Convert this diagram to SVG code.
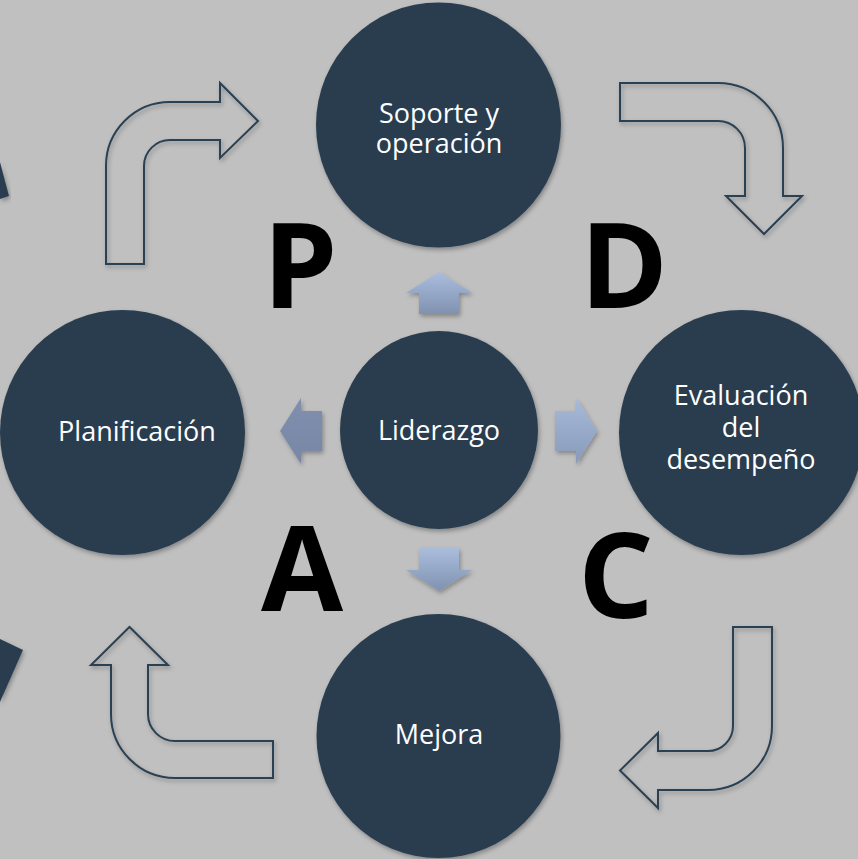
<svg xmlns="http://www.w3.org/2000/svg" width="858" height="859" viewBox="0 0 858 859">
  <defs>
    <filter id="sh" x="-20%" y="-20%" width="140%" height="140%">
      <feDropShadow dx="1.5" dy="2.5" stdDeviation="2" flood-color="#000" flood-opacity="0.3"/>
    </filter>
    <linearGradient id="gv" x1="0" y1="0" x2="0" y2="1">
      <stop offset="0" stop-color="#aabddd"/>
      <stop offset="1" stop-color="#8092b0"/>
    </linearGradient>
    <linearGradient id="gl" x1="0" y1="0" x2="0" y2="1">
      <stop offset="0" stop-color="#7f8fad"/>
      <stop offset="1" stop-color="#7787a5"/>
    </linearGradient>
    <linearGradient id="gr" x1="0" y1="0" x2="0" y2="1">
      <stop offset="0" stop-color="#a8badb"/>
      <stop offset="1" stop-color="#8899b9"/>
    </linearGradient>
    <style>
      .node { fill: #2a3e4f; filter: url(#sh); }
      .lbl { font-family: "Open Sans", "Liberation Sans", sans-serif; font-size: 27px; fill: #ffffff; text-anchor: middle; }
      .big { font-family: "Open Sans", "Liberation Sans", sans-serif; font-size: 119px; font-weight: bold; fill: #000000; text-anchor: middle; }
      .out { fill: none; stroke: #2b4152; stroke-width: 2; stroke-linejoin: miter; filter: url(#sh); }
      .small { filter: url(#sh); }
    </style>
  </defs>
  <rect x="0" y="0" width="858" height="859" fill="#c0c0c0"/>

  <!-- partial shapes at left edge -->
  <polygon points="0,162 9,196 0,199" fill="#2a3e4f" filter="url(#sh)"/>
  <polygon points="0,639 23,650 0,702" fill="#2a3e4f" filter="url(#sh)"/>

  <g id="connectors">
    <path class="out" d="M106,264 L106,166 A64,64 0 0 1 170,102 L220,102 L220,83 L258,121 L220,158 L220,140 L170,140 A26,26 0 0 0 144,166 L144,264 Z"/>
    <path class="out" d="M620,83 L718,83 A65,65 0 0 1 783,148 L783,196 L802,196 L764,234 L726,196 L745,196 L745,148 A27,27 0 0 0 718,121 L620,121 Z"/>
    <path class="out" d="M733,627 L772,627 L772,726 A64,64 0 0 1 708,790 L658,790 L658,808 L620,770.5 L658,733 L658,751 L708,751 A25,25 0 0 0 733,726 Z"/>
    <path class="out" d="M273,741 L273,778 L175,778 A64,64 0 0 1 111,714 L111,665 L91,665 L129.5,627 L168,665 L148,665 L148,714 A27,27 0 0 0 175,741 Z"/>
    <path class="small" fill="url(#gv)" d="M439,272 L472,293 L459,293 L459,314 L419,314 L419,293 L406,293 Z"/>
    <path class="small" fill="url(#gl)" d="M280,431 L301,398 L301,411 L322,411 L322,451 L301,451 L301,464 Z"/>
    <path class="small" fill="url(#gr)" d="M597,431 L576,398 L576,411 L555,411 L555,451 L576,451 L576,464 Z"/>
    <path class="small" fill="url(#gv)" d="M439,591 L472,570 L459,570 L459,548 L419,548 L419,570 L406,570 Z"/>
  </g>

  <g id="node-soporte">
    <circle class="node" cx="438.5" cy="125" r="122.5"/>
    <text class="lbl" x="439" y="123">Soporte y</text>
    <text class="lbl" x="439" y="153">operación</text>
  </g>
  <g id="node-planificacion">
    <circle class="node" cx="122.5" cy="432.5" r="122.5"/>
    <text class="lbl" x="137" y="441">Planificación</text>
  </g>
  <g id="node-evaluacion">
    <circle class="node" cx="741.5" cy="432.5" r="122.5"/>
    <text class="lbl" x="741" y="405">Evaluación</text>
    <text class="lbl" x="741" y="437">del</text>
    <text class="lbl" x="741" y="469">desempeño</text>
  </g>
  <g id="node-mejora">
    <circle class="node" cx="438.5" cy="736" r="122"/>
    <text class="lbl" x="439" y="744">Mejora</text>
  </g>
  <g id="node-liderazgo">
    <circle class="node" cx="439" cy="430" r="99"/>
    <text class="lbl" x="439" y="440">Liderazgo</text>
  </g>

  <g id="letters">
    <text class="big" x="300" y="308">P</text>
    <text class="big" x="624" y="308">D</text>
    <text class="big" x="302" y="611">A</text>
    <text class="big" x="616" y="618">C</text>
  </g>
</svg>
